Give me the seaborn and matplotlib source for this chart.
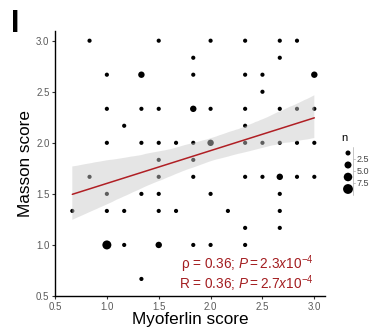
import numpy as np
import pandas as pd
import matplotlib
matplotlib.use("Agg")
import matplotlib.pyplot as plt
import seaborn as sns

# ---- data ----
x_score = [0.833, 1.5, 2.0, 2.333, 2.667, 2.833,
           1.833, 2.667,
           1.0, 1.333, 1.833, 2.333, 2.5, 3.0,
           2.5,
           1.0, 1.333, 1.5, 1.833, 2.0, 2.333, 2.667, 2.833, 3.0,
           1.167, 2.333,
           1.0, 1.333, 1.5, 1.667, 1.833, 2.0, 2.333, 2.5, 2.667, 2.833, 3.0,
           1.5, 1.833,
           0.833, 1.5, 1.833, 2.333, 2.5, 2.667, 2.833, 3.0,
           1.0, 1.333, 1.5, 2.0, 2.667,
           0.667, 1.0, 1.167, 1.5, 1.667, 2.167, 2.667,
           2.333, 2.667,
           1.0, 1.167, 1.5, 1.833, 2.0, 2.333,
           1.333]
y_score = [3.0] * 6 + [2.833] * 2 + [2.667] * 6 + [2.5] + [2.333] * 9 + \
          [2.167] * 2 + [2.0] * 11 + [1.833] * 2 + [1.667] * 8 + [1.5] * 5 + \
          [1.333] * 7 + [1.167] * 2 + [1.0] * 6 + [0.667]
n_count = [1, 1, 1, 1, 1, 1,
           1, 1,
           1, 4, 1, 1, 1, 4,
           1,
           1, 1, 1, 4, 1, 1, 1, 1, 1,
           1, 1,
           1, 1, 1, 1, 1, 4, 1, 1, 1, 1, 1,
           1, 1,
           1, 1, 1, 1, 1, 4, 1, 1,
           1, 1, 1, 1, 1,
           1, 1, 1, 1, 1, 1, 1,
           1, 1,
           9, 1, 4, 1, 1, 1,
           1]
tick_values = [0.5, 1.0, 1.5, 2.0, 2.5, 3.0]
legend_n = [2.0, 5.0, 8.0, 11.0]
legend_labels = ["2.5", "5.0", "7.5"]
stat_lines = ["ρ = 0.36; $\\mathit{P{=}2.3x10^{-4}}$",
              "R = 0.36; $\\mathit{P{=}2.7x10^{-4}}$"]

# ---- style ----
sns.set_theme(style="ticks")
plt.rcParams["font.family"] = ["Liberation Sans", "DejaVu Sans"]
plt.rcParams["mathtext.fontset"] = "custom"
plt.rcParams["mathtext.rm"] = "Liberation Sans"
plt.rcParams["mathtext.it"] = "Liberation Sans:italic"
plt.rcParams["mathtext.bf"] = "Liberation Sans:bold"

W, H = 371, 330
fig = plt.figure(figsize=(W / 100, H / 100), dpi=100)
ax = fig.add_axes([55 / W, 1 - 296 / H, (325 - 55) / W, (296 - 31) / H])

df = pd.DataFrame(dict(x=x_score, y=y_score, n=n_count))
SMIN, SMAX = 9, 42
NORM = (1, 9)
sns.scatterplot(data=df, x="x", y="y", size="n", sizes=(SMIN, SMAX),
                size_norm=NORM, color="black", edgecolor="none", linewidth=0,
                legend=False, ax=ax, zorder=2)

expanded = df.loc[df.index.repeat(df["n"])].reset_index(drop=True)
n_before = len(ax.collections)
sns.regplot(data=expanded, x="x", y="y", scatter=False, ax=ax, ci=95,
            seed=3, color="#b01f24", line_kws=dict(linewidth=1.1, zorder=4))
for coll in ax.collections[n_before:]:
    coll.set_facecolor((0.79, 0.79, 0.79))
    coll.set_alpha(0.47)
    coll.set_edgecolor("none")
    coll.set_zorder(3)

ax.set_xlim(0.5, 3.103)
ax.set_ylim(0.5, 3.095)
ax.set_xticks(tick_values)
ax.set_yticks(tick_values)
ax.set_xticklabels([f"{v:.1f}" for v in tick_values])
ax.set_yticklabels([f"{v:.1f}" for v in tick_values])
ax.tick_params(length=2.5, width=0.8, color="#333333", labelsize=7,
               labelcolor="#5a5a5a", pad=1.5)
sns.despine(ax=ax)
for s in ("left", "bottom"):
    ax.spines[s].set_linewidth(1.0)
    ax.spines[s].set_color("black")
ax.set_xlabel("Myoferlin score", fontsize=12.3, color="black", labelpad=0.5)
ax.set_ylabel("Masson score", fontsize=12.3, color="black", labelpad=2)

ax.text(2.99, 0.81, stat_lines[0], ha="right", va="center", fontsize=9.8,
        color="#a31d20")
ax.text(2.99, 0.62, stat_lines[1], ha="right", va="center", fontsize=9.8,
        color="#a31d20")

# panel label
fig.text(11 / W, 1 - 9 / H, "I", fontsize=22, fontweight="bold",
         ha="left", va="top", color="black")

# ---- size legend (binned style) ----
lax = fig.add_axes([330 / W, 1 - 200 / H, 41 / W, 70 / H])
lax.set_xlim(330, 371)
lax.set_ylim(200, 130)
lax.axis("off")
idx = np.arange(len(legend_n))
key_y = 153 + 12 * idx
leg_sizes = SMIN + (np.array(legend_n) - NORM[0]) / (NORM[1] - NORM[0]) * (SMAX - SMIN)
lax.scatter(np.full(len(legend_n), 348), key_y, s=leg_sizes, color="black",
            edgecolor="none", clip_on=False)
lax.plot([353, 353], [147, 195], color="#bbbbbb", lw=0.6)
lab_y = (key_y[:-1] + key_y[1:]) / 2
for yy, lab in zip(lab_y, legend_labels):
    lax.plot([353, 355], [yy, yy], color="#bbbbbb", lw=0.6)
    lax.text(357, yy, lab, fontsize=6.5, color="#444444", va="center", ha="left")
lax.text(341, 138, "n", fontsize=8, color="black", va="center", ha="left")

fig.savefig("out.png", dpi=100)
